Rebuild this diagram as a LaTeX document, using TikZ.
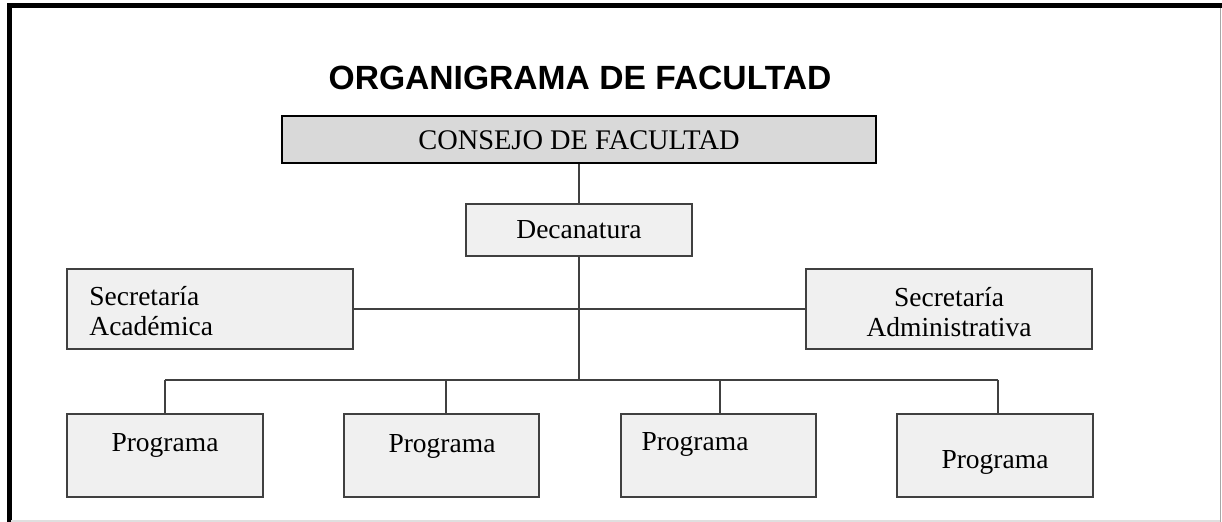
\documentclass[tikz,border=0pt]{standalone}
\usepackage{fontspec}
\setmainfont{Liberation Serif}
\newfontfamily\titlefont{Liberation Sans}
\definecolor{boxfill}{HTML}{F0F0F0}
\definecolor{topfill}{HTML}{D9D9D9}
\definecolor{linecol}{HTML}{404040}
\begin{document}
\begin{tikzpicture}[x=0.5pt,y=-0.5pt,
  orgbox/.style={draw=linecol, line width=0.75pt, fill=boxfill, inner sep=0pt},
  topbox/.style={draw=black, line width=1.2pt, fill=topfill, inner sep=0pt},
  txt/.style={inner sep=0pt, font=\fontsize{13.75pt}{15pt}\selectfont},
  conn/.style={draw=linecol, line width=0.7pt}]
\useasboundingbox (0,0) rectangle (1222,522);
% frame
\draw[line width=2.5pt] (9,522) -- (9,6) -- (1222,6);
\draw[gray!70, line width=0.6pt] (1220.5,8) -- (1220.5,522);
\draw[gray!25, line width=0.6pt] (11,521) -- (1220,521);
% title
\node[inner sep=0pt, font=\titlefont\bfseries\fontsize{16.8pt}{18pt}\selectfont] (title) at (580,78) {ORGANIGRAMA DE FACULTAD};
% boxes
\node[topbox, minimum width=297pt, minimum height=23.5pt] (cons) at (579,139.5) {};
\node[txt, font=\fontsize{14.2pt}{15pt}\selectfont] (consT) at (579,140) {CONSEJO DE FACULTAD};
\node[orgbox, minimum width=113pt, minimum height=26pt] (deca) at (579,230) {};
\node[txt] (decaT) at (579,230) {Decanatura};
\node[orgbox, minimum width=143pt, minimum height=40pt] (secA) at (210,309) {};
\node[txt, anchor=west, align=left] (secAT) at (89,311) {Secretaría\\Académica};
\node[orgbox, minimum width=143pt, minimum height=40pt] (secB) at (949,309) {};
\node[txt, align=center] (secBT) at (949,312) {Secretaría\\Administrativa};
\node[orgbox, minimum width=98pt, minimum height=41.5pt] (p1) at (165,455.5) {};
\node[txt] (p1T) at (165,445) {Programa};
\node[orgbox, minimum width=97.5pt, minimum height=41.5pt] (p2) at (441.5,455.5) {};
\node[txt] (p2T) at (442,446) {Programa};
\node[orgbox, minimum width=97.5pt, minimum height=41.5pt] (p3) at (718.5,455.5) {};
\node[txt] (p3T) at (695,444) {Programa};
\node[orgbox, minimum width=98pt, minimum height=41.5pt] (p4) at (995,455.5) {};
\node[txt] (p4T) at (995,462) {Programa};
% bus coordinates
\coordinate (b1) at (165,380);
\coordinate (b2) at (446,380);
\coordinate (b3) at (720,380);
\coordinate (b4) at (998,380);
\coordinate (bm) at (579,380);
% connectors
\draw[conn] (cons.south) -- (deca.north);
\draw[conn] (deca.south) -- (bm);
\draw[conn] (secA.east) -- (secB.west);
\draw[conn] (b1) -- (b4);
\draw[conn] (b1) -- (b1 |- p1.north);
\draw[conn] (b2) -- (b2 |- p2.north);
\draw[conn] (b3) -- (b3 |- p3.north);
\draw[conn] (b4) -- (b4 |- p4.north);
\end{tikzpicture}
\end{document}
